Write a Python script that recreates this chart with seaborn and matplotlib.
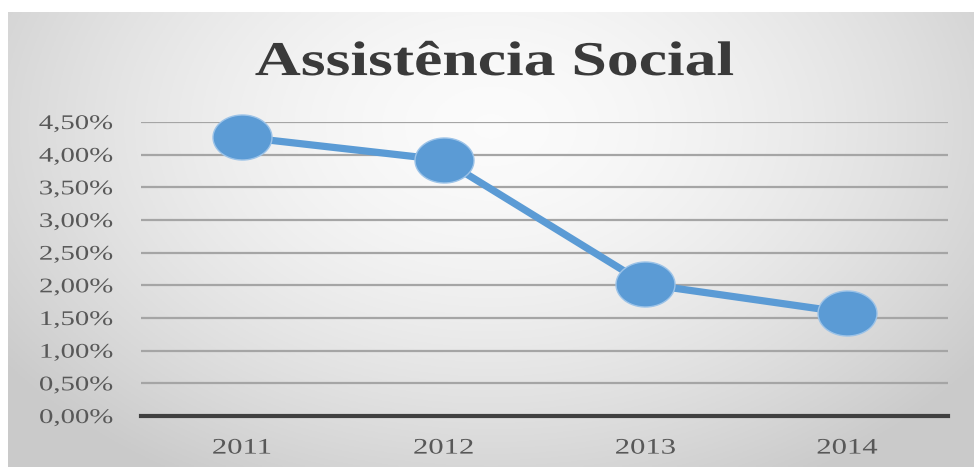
import numpy as np
import pandas as pd
import matplotlib
matplotlib.use("Agg")
import matplotlib.pyplot as plt
import seaborn as sns
from matplotlib.path import Path
from matplotlib.ticker import FuncFormatter, MultipleLocator
from matplotlib.patheffects import AbstractPathEffect
from matplotlib.transforms import Affine2D

years = ["2011", "2012", "2013", "2014"]
values = [4.27, 3.92, 2.02, 1.58]
title = "Assistência Social"

df = pd.DataFrame({"ano": years, "valor": values})


class Stretch(AbstractPathEffect):
    """Draw text horizontally widened about an anchor of its own box."""

    def __init__(self, sx, anchor="center"):
        super().__init__()
        self.sx = sx
        self.anchor = anchor

    def draw_path(self, renderer, gc, tpath, affine, rgbFace=None):
        bb = tpath.get_extents(affine)
        if self.anchor == "right":
            cx = bb.x1
        elif self.anchor == "left":
            cx = bb.x0
        else:
            cx = 0.5 * (bb.x0 + bb.x1)
        a = affine + Affine2D().translate(-cx, 0).scale(self.sx, 1).translate(cx, 0)
        renderer.draw_path(gc, tpath, a, rgbFace)


sns.set_theme(style="white")
plt.rcParams['font.family'] = ['Liberation Serif', 'DejaVu Serif']

W, H = 974, 467
fig = plt.figure(figsize=(W / 100, H / 100), dpi=100)
fig.patch.set_facecolor("white")

# background panel with radial gradient
top_px = 12
left_px = 8
bg = fig.add_axes([left_px / W, 0, 1 - left_px / W, (H - top_px) / H], zorder=0)
ny, nx = 200, 400
yy, xx = np.mgrid[0:1:ny * 1j, 0:1:nx * 1j]
r = np.sqrt(((xx - 0.5) / 0.62) ** 2 + ((yy - 0.25) / 0.9) ** 2)
r = np.clip(r, 0, 1)
shade = 0.985 - 0.19 * r ** 1.6
img = np.dstack([shade, shade, shade])
bg.imshow(img, aspect="auto", extent=[0, 1, 0, 1], origin="upper")
bg.set_axis_off()

ax = fig.add_axes([141 / W, 51 / H, (948 - 141) / W, (416 - 122) / H], zorder=1)
ax.patch.set_alpha(0)

# elliptical marker
t = np.linspace(0, 2 * np.pi, 60)
verts = np.column_stack([np.cos(t) * 59 / 2, np.sin(t) * 45 / 2])
ell = Path(verts, closed=True)

sns.lineplot(data=df, x="ano", y="valor", ax=ax, color="#5B9BD5", linewidth=5.2,
             marker=ell, markersize=42.5, markeredgecolor="#9CC3E8",
             markeredgewidth=1.0, markerfacecolor="#5B9BD5", clip_on=False,
             zorder=5)

ax.set_xlim(-0.5, 3.5)
ax.set_ylim(0, 4.5)
ax.yaxis.set_major_locator(MultipleLocator(0.5))
ax.yaxis.set_major_formatter(FuncFormatter(lambda v, p: f"{v:.2f}%".replace(".", ",")))
ax.grid(axis="y", color="#a5a5a5", linewidth=1.6)
ax.set_axisbelow(True)
for s in ["top", "right", "left"]:
    ax.spines[s].set_visible(False)
ax.spines["bottom"].set_color("#404040")
ax.spines["bottom"].set_linewidth(3)
ax.tick_params(axis="y", length=0, labelsize=15, colors="#585858", pad=20)
ax.tick_params(axis="x", length=0, labelsize=16, colors="#585858", pad=17)
ax.set_xlabel("")
ax.set_ylabel("")

for lab in ax.get_yticklabels():
    lab.set_path_effects([Stretch(1.38, "right")])
for lab in ax.get_xticklabels():
    lab.set_path_effects([Stretch(1.38, "center")])

fig.text(0.508, 0.865, title, ha="center", va="center", fontsize=35,
         fontweight="bold", color="#3a3a3a",
         path_effects=[Stretch(1.31, "center")])

fig.savefig("out.png", dpi=100)
